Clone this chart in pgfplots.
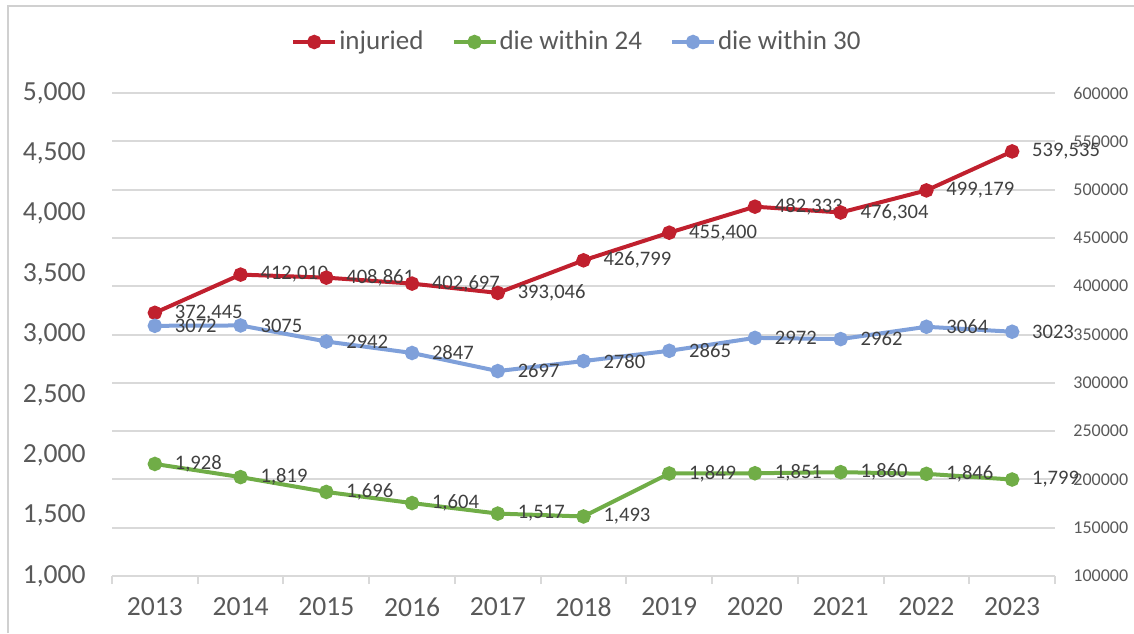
\documentclass[border=0pt]{standalone}
\usepackage{pgfplots}
\pgfplotsset{compat=1.18}
\usepackage{fontspec}
\setmainfont{Carlito}
\definecolor{cred}{RGB}{192,32,46}
\definecolor{cgreen}{RGB}{112,173,71}
\definecolor{cblue}{RGB}{127,160,218}
\definecolor{tickgray}{RGB}{89,89,89}
\definecolor{labelgray}{RGB}{64,64,64}
\definecolor{gridgray}{RGB}{217,217,217}
\definecolor{framegray}{RGB}{208,208,208}
\begin{document}
\begin{tikzpicture}
\path[use as bounding box] (0,0) rectangle (567pt,316.5pt);
\draw[line width=1pt, framegray] (3.75pt,0) -- (3.75pt,313.5pt) -- (567pt,313.5pt);
\pgfplotsset{base/.style={scale only axis, width=471.5pt, height=241.5pt,
  at={(56pt,28.5pt)}, anchor=south west, xmin=-0.5, xmax=10.5,
  /pgf/number format/assume math mode=true,
  /pgf/number format/fixed, /pgf/number format/precision=0,
  every tick label/.append style={text=tickgray},
  clip=false},
  lbl/.style={nodes near coords, point meta=explicit symbolic,
  every node near coord/.append style={anchor=west, inner sep=0pt, xshift=9pt,
    font=\fontsize{10.3}{12}\selectfont, text=labelgray}},
  ser/.style={#1, line width=2pt, mark=*, mark size=2.6pt, mark options={solid, fill=#1}}
}
% right axis (injured) with grid
\begin{axis}[base,
  ymin=100000, ymax=600000, ytick={100000,150000,...,600000},
  axis y line*=right, axis x line=none, xtick=\empty,
  y axis line style={draw=none},
  ymajorgrids, grid style={gridgray, line width=1pt},
  major tick length=0pt,
  scaled y ticks=false,
  yticklabel style={font=\fontsize{9}{11}\selectfont, inner sep=0pt, xshift=9pt,
    /pgf/number format/1000 sep={}},
  legend style={at={(0.493,1.1056)}, anchor=center, draw=none, fill=none,
    legend columns=3, font=\fontsize{13.5}{15}\selectfont, text=tickgray,
    nodes={inner sep=1pt},
    /tikz/every even column/.append style={column sep=13pt}},
  legend image code/.code={\draw[mark repeat=2,mark phase=2,#1] plot coordinates {(0pt,0pt) (10.5pt,0pt) (21pt,0pt)};}
]
\addplot[ser=cred, lbl] table[meta=l] {
x y l
0 372445 372,445
1 412010 412,010
2 408861 408,861
3 402697 402,697
4 393046 393,046
5 426799 426,799
6 455400 455,400
7 482333 482,333
8 476304 476,304
9 499179 499,179
10 539535 539,535
};
\addlegendentry{injuried}
\addlegendimage{ser=cgreen}
\addlegendentry{die within 24}
\addlegendimage{ser=cblue}
\addlegendentry{die within 30}
\end{axis}
% left axis
\begin{axis}[base,
  ymin=1000, ymax=5000, ytick={1000,1500,...,5000},
  yticklabel style={font=\fontsize{13.8}{16}\selectfont, inner sep=0pt, xshift=-13pt,
    /pgf/number format/1000 sep={,}},
  xtick={0,...,10},
  xticklabels={2013,2014,2015,2016,2017,2018,2019,2020,2021,2022,2023},
  xticklabel style={font=\fontsize{13.8}{16}\selectfont, inner sep=0pt, yshift=-10.5pt},
  minor xtick={-0.5,0.5,...,10.5},
  major tick length=0pt, minor tick length=4pt, tick align=outside,
  axis x line*=bottom, axis y line*=left,
  y axis line style={draw=none},
  x axis line style={gridgray, line width=1pt, -},
  minor tick style={gridgray, line width=1pt},
]
\addplot[ser=cgreen, lbl] table[meta=l] {
x y l
0 1928 1,928
1 1819 1,819
2 1696 1,696
3 1604 1,604
4 1517 1,517
5 1493 1,493
6 1849 1,849
7 1851 1,851
8 1860 1,860
9 1846 1,846
10 1799 1,799
};
\addplot[ser=cblue, lbl] table[meta=l] {
x y l
0 3072 3072
1 3075 3075
2 2942 2942
3 2847 2847
4 2697 2697
5 2780 2780
6 2865 2865
7 2972 2972
8 2962 2962
9 3064 3064
10 3023 3023
};
\end{axis}
\end{tikzpicture}
\end{document}
